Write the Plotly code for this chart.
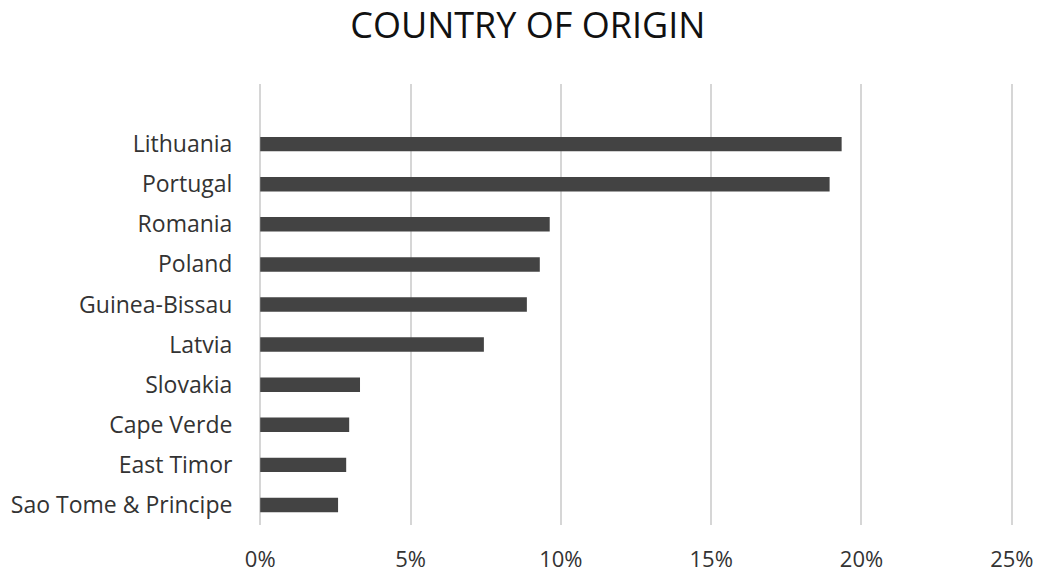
import plotly.graph_objects as go

# Share of respondents by country of origin (fraction of total)
countries = [
    "Sao Tome & Principe", "East Timor", "Cape Verde", "Slovakia", "Latvia",
    "Guinea-Bissau", "Poland", "Romania", "Portugal", "Lithuania",
]
shares = [0.0259, 0.0286, 0.0296, 0.0332, 0.0744, 0.0887, 0.0930, 0.0963, 0.1894, 0.1934]

x_ticks = [0, 0.05, 0.10, 0.15, 0.20, 0.25]
x_tick_labels = ["0%", "5%", "10%", "15%", "20%", "25%"]

font_family = "'Open Sans', sans-serif"

fig = go.Figure(
    go.Bar(
        x=shares,
        y=countries,
        orientation="h",
        marker=dict(color="#434343", line=dict(width=0)),
        hoverinfo="x+y",
    )
)

fig.update_layout(
    width=1041,
    height=574,
    margin=dict(l=259, r=28, t=84, b=49),
    paper_bgcolor="white",
    plot_bgcolor="white",
    bargap=0.64,
    showlegend=False,
    title=dict(
        text="COUNTRY OF ORIGIN",
        x=0.507,
        xanchor="center",
        y=0.955,
        yanchor="middle",
        font=dict(family=font_family, size=36, color="#111111"),
    ),
    font=dict(family=font_family, size=22, color="#333333"),
)

fig.update_xaxes(
    range=[-0.0004, 0.2504],
    tickvals=x_ticks,
    ticktext=x_tick_labels,
    showgrid=True,
    gridcolor="#d6d6d6",
    gridwidth=2,
    zeroline=False,
    showline=False,
    ticks="outside",
    ticklen=15,
    tickcolor="rgba(0,0,0,0)",
    tickfont=dict(size=22, color="#333333"),
    automargin=False,
    fixedrange=True,
)

fig.update_yaxes(
    categoryorder="array",
    categoryarray=countries,
    range=[-0.5, 10.5],
    showgrid=False,
    zeroline=False,
    showline=False,
    ticks="outside",
    ticklen=21,
    tickcolor="rgba(0,0,0,0)",
    tickfont=dict(size=23, color="#333333"),
    automargin=False,
    fixedrange=True,
)

fig.write_html("out.html")
